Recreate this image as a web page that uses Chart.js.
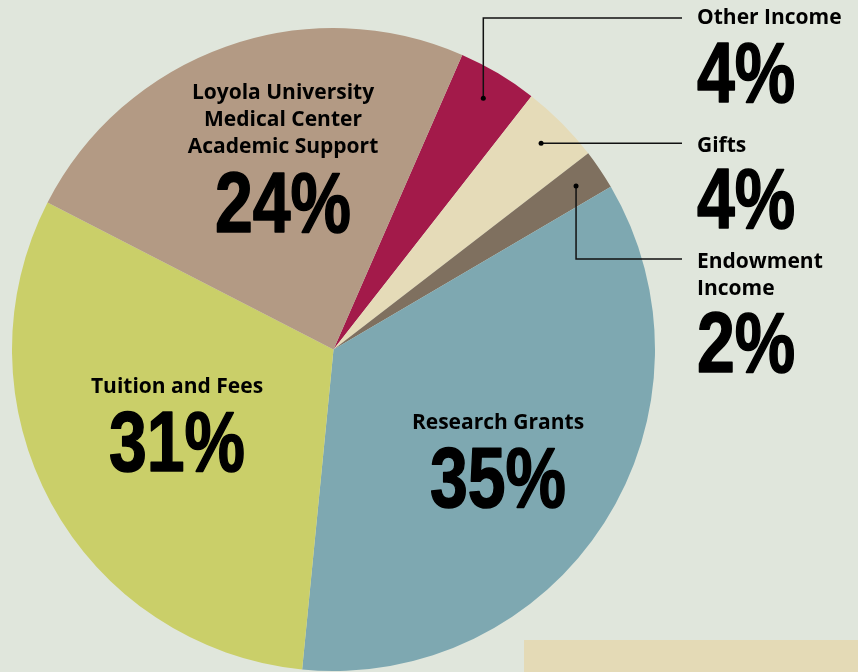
<!DOCTYPE html>
<html>
<head>
<meta charset="utf-8">
<script src="https://cdn.jsdelivr.net/npm/chart.js@4.4.1/dist/chart.umd.min.js"></script>
<style>
  html, body { margin: 0; padding: 0; background: #e0e6dc; }
  #wrap { position: relative; width: 858px; height: 672px; overflow: hidden; }
  #box { position: absolute; left: 524px; top: 640px; width: 334px; height: 32px; background: #e4dab6; }
  canvas { position: absolute; left: 0; top: 0; }
</style>
</head>
<body>
<div id="wrap">
  <div id="box"></div>
  <canvas id="pie" width="858" height="672"></canvas>
</div>
<script>
// slices in clockwise order, starting from Other Income
const categories = ['Other Income', 'Gifts', 'Endowment Income', 'Research Grants', 'Tuition and Fees', 'Loyola University Medical Center Academic Support'];
const shares = [4, 4, 2, 35, 31, 24];
const sliceColors = ['#a31a4a', '#e5dbb8', '#7f705f', '#7ea8b1', '#cacf69', '#b39a84'];

const TITLE_FONT = 'bold 21px "Open Sans", "Noto Sans", sans-serif';
const PCT_FONT = 'bold 85px "Liberation Sans", Arial, sans-serif';
const PCT_SQUEEZE = 0.8; // condensed look

function pctText(ctx, txt, x, y, align) {
  ctx.save();
  ctx.font = PCT_FONT;
  ctx.textBaseline = 'alphabetic';
  ctx.fillStyle = '#000';
  ctx.strokeStyle = '#000';
  ctx.lineWidth = 1.6;
  ctx.lineJoin = 'round';
  const w = ctx.measureText(txt).width * PCT_SQUEEZE;
  const left = align === 'center' ? x - w / 2 : x;
  ctx.translate(left, y);
  ctx.scale(PCT_SQUEEZE, 1);
  ctx.textAlign = 'left';
  ctx.fillText(txt, 0, 0);
  ctx.strokeText(txt, 0, 0);
  ctx.restore();
}

function titleLines(ctx, lines, x, y, align, step) {
  ctx.save();
  ctx.font = TITLE_FONT;
  ctx.textAlign = align;
  ctx.textBaseline = 'middle';
  ctx.fillStyle = '#000';
  lines.forEach((l, i) => ctx.fillText(l, x, y + i * step));
  ctx.restore();
}

const labelPlugin = {
  id: 'labels',
  afterDatasetsDraw(chart) {
    const ctx = chart.ctx;
    const arcs = chart.getDatasetMeta(0).data;

    // inside labels
    titleLines(ctx, ['Loyola University', 'Medical Center', 'Academic Support'], 283, 93, 'center', 27);
    pctText(ctx, shares[5] + '%', 283, 232, 'center');
    titleLines(ctx, ['Tuition and Fees'], 177, 387, 'center', 27);
    pctText(ctx, shares[4] + '%', 177, 471, 'center');
    titleLines(ctx, ['Research Grants'], 498, 423, 'center', 27);
    pctText(ctx, shares[3] + '%', 498, 507, 'center');

    // callouts on the right for the three small slices
    const dot = (i) => {
      const a = arcs[i];
      const mid = (a.startAngle + a.endAngle) / 2;
      const r = a.outerRadius * 0.91;
      return { x: a.x + Math.cos(mid) * r, y: a.y + Math.sin(mid) * r };
    };
    const lineX = 682;
    ctx.save();
    ctx.strokeStyle = '#111';
    ctx.lineWidth = 1.5;
    ctx.fillStyle = '#000';

    const p0 = dot(0);
    ctx.beginPath();
    ctx.moveTo(p0.x, p0.y); ctx.lineTo(p0.x, 18); ctx.lineTo(lineX, 18);
    ctx.stroke();
    const p1 = dot(1);
    ctx.beginPath();
    ctx.moveTo(p1.x, p1.y); ctx.lineTo(lineX, p1.y);
    ctx.stroke();
    const p2 = dot(2);
    ctx.beginPath();
    ctx.moveTo(p2.x, p2.y); ctx.lineTo(p2.x, 259); ctx.lineTo(lineX, 259);
    ctx.stroke();
    [p0, p1, p2].forEach(p => {
      ctx.beginPath();
      ctx.arc(p.x, p.y, 2.5, 0, Math.PI * 2);
      ctx.fill();
    });
    ctx.restore();

    titleLines(ctx, ['Other Income'], 697, 18, 'left', 27);
    pctText(ctx, shares[0] + '%', 697, 102, 'left');
    titleLines(ctx, ['Gifts'], 697, 146, 'left', 27);
    pctText(ctx, shares[1] + '%', 697, 228, 'left');
    titleLines(ctx, ['Endowment', 'Income'], 697, 262, 'left', 27);
    pctText(ctx, shares[2] + '%', 697, 372, 'left');
  }
};

new Chart(document.getElementById('pie'), {
  type: 'pie',
  data: {
    labels: categories,
    datasets: [{
      data: shares,
      backgroundColor: sliceColors,
      borderWidth: 0
    }]
  },
  options: {
    responsive: false,
    animation: false,
    rotation: 23.6,
    layout: { padding: { left: 12, right: 203, top: 28, bottom: 1 } },
    plugins: {
      legend: { display: false },
      tooltip: { enabled: false }
    }
  },
  plugins: [labelPlugin]
});
</script>
</body>
</html>
